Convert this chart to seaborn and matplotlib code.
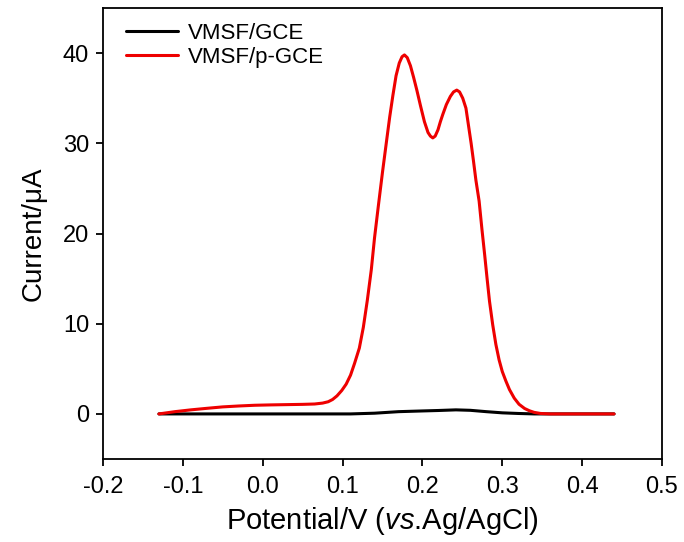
import matplotlib
matplotlib.use("Agg")
import matplotlib.pyplot as plt
import seaborn as sns
import pandas as pd

# VMSF/p-GCE (red)
x_red = [-0.13, -0.11, -0.09, -0.07, -0.05, -0.03, -0.01, 0.01, 0.03, 0.05,
         0.065, 0.075, 0.082, 0.0875, 0.093, 0.099, 0.1045, 0.110, 0.115, 0.121,
         0.126, 0.131, 0.136, 0.140, 0.145, 0.150, 0.155, 0.159, 0.163, 0.167,
         0.171, 0.1745, 0.1775, 0.181, 0.185, 0.189, 0.193, 0.1975, 0.2025, 0.207,
         0.210, 0.213, 0.216, 0.2195, 0.2225, 0.2255, 0.230, 0.235, 0.239, 0.243,
         0.2465, 0.2505, 0.2545, 0.258, 0.261, 0.264, 0.267, 0.271, 0.2745, 0.278,
         0.281, 0.284, 0.288, 0.292, 0.296, 0.300, 0.3045, 0.309, 0.315, 0.321,
         0.328, 0.334, 0.340, 0.348, 0.36, 0.40, 0.44]
y_red = [0.0, 0.25, 0.45, 0.62, 0.78, 0.88, 0.96, 1.0, 1.03, 1.06,
         1.1, 1.2, 1.35, 1.6, 2.0, 2.6, 3.3, 4.3, 5.6, 7.3,
         9.6, 12.6, 16.0, 19.5, 23.2, 26.8, 30.2, 32.9, 35.3, 37.5,
         38.9, 39.6, 39.8, 39.5, 38.6, 37.3, 35.9, 34.2, 32.4, 31.2,
         30.8, 30.6, 30.8, 31.5, 32.4, 33.2, 34.3, 35.2, 35.7, 35.9,
         35.7, 35.0, 33.9, 31.8, 30.0, 28.0, 25.9, 23.6, 20.5, 17.6,
         15.0, 12.5, 9.9, 7.7, 6.0, 4.7, 3.65, 2.7, 1.75, 1.07,
         0.6, 0.35, 0.17, 0.05, 0.0, 0.0, 0.0]

# VMSF/GCE (black)
x_blk = [-0.13, -0.05, 0.05, 0.11, 0.14, 0.17, 0.20, 0.22, 0.242, 0.26, 0.28, 0.30, 0.32, 0.34, 0.40, 0.44]
y_blk = [0.0, 0.0, 0.0, 0.0, 0.08, 0.25, 0.33, 0.38, 0.45, 0.4, 0.25, 0.12, 0.05, 0.0, 0.0, 0.0]

sns.set_style("ticks")
plt.rcParams['font.family'] = ['Liberation Sans', 'DejaVu Sans']
plt.rcParams['mathtext.fontset'] = 'custom'
plt.rcParams['mathtext.rm'] = 'Liberation Sans'
plt.rcParams['mathtext.it'] = 'Liberation Sans:italic'
plt.rcParams['text.color'] = 'black'
plt.rcParams['axes.labelcolor'] = 'black'

df_blk = pd.DataFrame({"x": x_blk, "y": y_blk})
df_red = pd.DataFrame({"x": x_red, "y": y_red})

fig = plt.figure(figsize=(6.84, 5.42), dpi=100)
ax = fig.add_axes([0.1506, 0.1531, 0.8172, 0.8321])

sns.lineplot(data=df_blk, x="x", y="y", ax=ax, color="black", lw=2.2,
             label="VMSF/GCE", sort=False)
sns.lineplot(data=df_red, x="x", y="y", ax=ax, color="#ee0000", lw=2.2,
             label="VMSF/p-GCE", sort=False)

ax.set_xlim(-0.2, 0.5)
ax.set_ylim(-5, 45)
ax.set_xticks([-0.2, -0.1, 0.0, 0.1, 0.2, 0.3, 0.4, 0.5])
ax.set_xticklabels(["-0.2", "-0.1", "0.0", "0.1", "0.2", "0.3", "0.4", "0.5"])
ax.set_yticks([0, 10, 20, 30, 40])
ax.tick_params(direction="out", length=5, width=1.3, labelsize=17, colors="black")
ax.tick_params(axis="x", pad=7)
ax.tick_params(axis="y", pad=5)
for s in ax.spines.values():
    s.set_linewidth(1.3)
    s.set_color("black")

ax.set_xlabel(r"Potential/V ($\mathit{vs}$.Ag/AgCl)", fontsize=21, labelpad=5)
ax.set_ylabel("Current/μA", fontsize=20, labelpad=12)

ax.legend(loc="upper left", bbox_to_anchor=(0.017, 0.997), frameon=False, fontsize=16,
          handlelength=2.35, handletextpad=0.45, labelspacing=0.15, borderaxespad=0.2)

fig.savefig("out.png", dpi=100)
